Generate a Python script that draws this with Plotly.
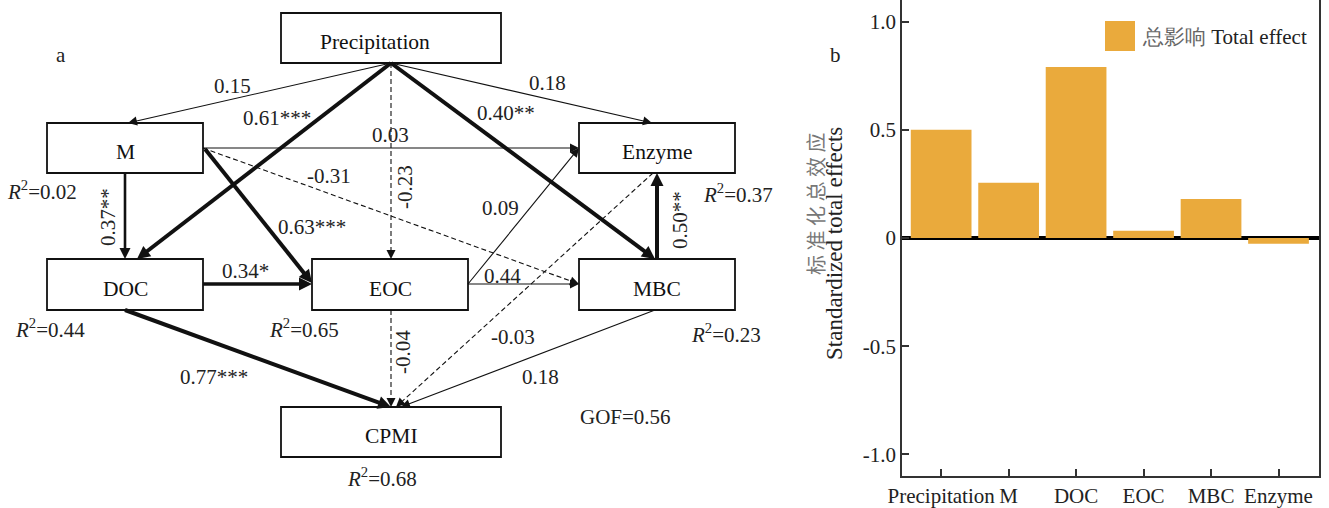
import math
import plotly.graph_objects as go

# ---------------- data: bar chart (panel b) ----------------
categories = ["Precipitation", "M", "DOC", "EOC", "MBC", "Enzyme"]
total_effects = [0.50, 0.255, 0.79, 0.034, 0.18, -0.026]
y_tickvals = [1.0, 0.5, 0, -0.5, -1.0]
y_ticktext = ["1.0", "0.5", "0", "-0.5", "-1.0"]
legend_label = "总影响 Total effect"

# ---------------- data: path model (panel a) ----------------
nodes = ["Precipitation", "M", "Enzyme", "DOC", "EOC", "MBC", "CPMI"]
r2_nodes = ["M", "Enzyme", "DOC", "EOC", "MBC", "CPMI"]
r2_values = ["0.02", "0.37", "0.44", "0.65", "0.23", "0.68"]
path_from = ["Precipitation", "Precipitation", "Precipitation", "Precipitation", "Precipitation",
             "M", "M", "M", "M", "DOC", "DOC", "EOC", "EOC", "EOC", "MBC", "MBC", "Enzyme"]
path_to = ["M", "DOC", "EOC", "MBC", "Enzyme",
           "Enzyme", "MBC", "EOC", "DOC", "EOC", "CPMI", "CPMI", "Enzyme", "MBC", "Enzyme", "CPMI", "CPMI"]
path_coef = [0.15, 0.61, -0.23, 0.40, 0.18,
             0.03, -0.31, 0.63, 0.37, 0.34, 0.77, -0.04, 0.09, 0.44, 0.50, 0.18, -0.03]
path_sig = ["", "***", "", "**", "",
            "", "", "***", "**", "*", "***", "", "", "", "**", "", ""]
gof_value = "0.56"

# ---------------- layout geometry (pixel space of the figure) ----------------
W, H = 1329, 508
FONT = "Liberation Serif"
CJK_FONT = "Noto Sans CJK SC"
FS = 21

node_box = {
    "Precipitation": (281, 13, 501, 63),
    "M": (47, 123, 203, 173),
    "Enzyme": (579, 123, 735, 173),
    "DOC": (47, 259, 203, 310),
    "EOC": (312, 259, 468, 310),
    "MBC": (579, 259, 735, 310),
    "CPMI": (281, 407, 501, 457),
}
node_label_shift = {"Precipitation": -16}

# edge geometry: start, end, label position, label angle, line width
edge_geom = [
    ((391, 63), (128, 123), (232, 86), 0, 1.1),
    ((391, 63), (137, 259), (277, 118), 0, 4),
    ((391, 63), (391, 259), (405, 187), -90, 1.1),
    ((391, 63), (655, 259), (506, 113), 0, 4),
    ((391, 63), (652, 123), (547, 83), 0, 1.1),
    ((203, 148), (579, 148), (390, 135), 0, 1.1),
    ((203, 148), (579, 284), (329, 176), 0, 1.1),
    ((205, 149), (312, 283), (312, 227), 0, 4),
    ((125, 173), (125, 259), (108, 217), -90, 2.6),
    ((203, 284), (312, 284), (245, 271), 0, 3.3),
    ((125, 310), (391, 407), (214, 377), 0, 4),
    ((391, 310), (391, 407), (403, 352), -90, 1.1),
    ((468, 284), (579, 148), (500, 208), 0, 1.1),
    ((468, 284), (579, 284), (502, 276), 0, 1.1),
    ((657, 259), (657, 173), (680, 220), -90, 4),
    ((655, 310), (401, 407), (540, 377), 0, 1.1),
    ((653, 173), (396, 407), (513, 337), 0, 1.1),
]
r2_pos = {"M": (42, 190), "Enzyme": (738, 193), "DOC": (50, 328),
          "EOC": (304, 328), "MBC": (726, 333), "CPMI": (382, 477)}

BAR_COLOR = "#EAAA3C"

fig = go.Figure()

# ---------------- panel b: bars ----------------
fig.add_trace(go.Bar(
    x=categories, y=total_effects, width=0.9,
    marker=dict(color=BAR_COLOR, line=dict(width=0)),
    showlegend=False, xaxis="x", yaxis="y",
))
# invisible trace so the diagram axes exist
fig.add_trace(go.Scatter(x=[0], y=[0], mode="markers", marker=dict(opacity=0),
                         showlegend=False, hoverinfo="skip", xaxis="x2", yaxis="y2"))

shapes = []
annotations = []

# ---------------- panel a: path diagram ----------------
for name in nodes:
    x0, y0, x1, y1 = node_box[name]
    shapes.append(dict(type="rect", xref="x2", yref="y2", x0=x0, y0=y0, x1=x1, y1=y1,
                       line=dict(color="#111", width=1.8), fillcolor="rgba(0,0,0,0)"))
    cx = (x0 + x1) / 2 + node_label_shift.get(name, 0)
    cy = (y0 + y1) / 2 + 4
    annotations.append(dict(xref="x2", yref="y2", x=cx, y=cy, text=name, showarrow=False,
                            font=dict(family=FONT, size=21.5, color="#111")))

for i in range(len(path_coef)):
    (sx, sy), (ex, ey), (lx, ly), ang, lw = edge_geom[i]
    dash = "dash" if path_coef[i] < 0 else "solid"
    dx, dy = ex - sx, ey - sy
    L = math.hypot(dx, dy)
    ux, uy = dx / L, dy / L
    hs = 2.6 if lw >= 3 else (2.2 if lw >= 2 else 1.8)
    hl = 5 * hs
    back = hl * 0.6
    shapes.append(dict(type="line", xref="x2", yref="y2", x0=sx, y0=sy,
                       x1=ex - ux * back, y1=ey - uy * back,
                       line=dict(color="#111", width=lw, dash=dash if dash == "solid" else "5px,3px")))
    annotations.append(dict(xref="x2", yref="y2", x=ex, y=ey, text="", showarrow=True,
                            arrowhead=2, arrowsize=hs, arrowwidth=1, arrowcolor="#111",
                            ax=-ux * (hl + 1), ay=-uy * (hl + 1), standoff=0))
    label = f"{path_coef[i]:.2f}{path_sig[i]}"
    annotations.append(dict(xref="x2", yref="y2", x=lx, y=ly, text=label, showarrow=False,
                            textangle=ang, font=dict(family=FONT, size=FS, color="#222")))

for name, val in zip(r2_nodes, r2_values):
    px, py = r2_pos[name]
    annotations.append(dict(xref="x2", yref="y2", x=px, y=py,
                            text=f"<i>R</i><sup>2</sup>={val}", showarrow=False,
                            font=dict(family=FONT, size=FS, color="#222")))

annotations.append(dict(xref="x2", yref="y2", x=625, y=417, text=f"GOF={gof_value}",
                        showarrow=False, font=dict(family=FONT, size=FS, color="#222")))
annotations.append(dict(xref="x2", yref="y2", x=61, y=55, text="a",
                        showarrow=False, font=dict(family=FONT, size=FS, color="#222")))
annotations.append(dict(xref="x2", yref="y2", x=835, y=55, text="b",
                        showarrow=False, font=dict(family=FONT, size=FS, color="#222")))

# y-axis title of panel b (two lines)
annotations.append(dict(xref="x2", yref="y2", x=815, y=204, text="标 准 化 总 效 应",
                        showarrow=False, textangle=-90,
                        font=dict(family=CJK_FONT, size=20, color="#777")))
annotations.append(dict(xref="x2", yref="y2", x=834, y=244, text="Standardized total effects",
                        showarrow=False, textangle=-90,
                        font=dict(family=FONT, size=23, color="#222")))

# legend (manual)
shapes.append(dict(type="rect", xref="x2", yref="y2", x0=1105, y0=21, x1=1135, y1=51,
                   line=dict(width=0), fillcolor=BAR_COLOR))
annotations.append(dict(xref="x2", yref="y2", x=1140, y=37, xanchor="left",
                        text="<span style='color:#666'>总影响</span> Total effect",
                        showarrow=False, font=dict(family=FONT, size=FS, color="#222")))

fig.update_layout(
    width=W, height=H, autosize=False,
    margin=dict(l=0, r=0, t=0, b=0, pad=0, autoexpand=False),
    paper_bgcolor="white", plot_bgcolor="rgba(0,0,0,0)",
    bargap=0.1, showlegend=False,
    font=dict(family=FONT, size=FS, color="#222"),
    xaxis=dict(domain=[902 / W, 1319 / W], range=[-0.58, 5.6], anchor="y", automargin=False,
               showline=True, mirror=True, linecolor="#333", linewidth=1.6,
               ticks="inside", ticklen=7, tickwidth=1.5, tickcolor="#333",
               showgrid=False, zeroline=False,
               tickfont=dict(family=FONT, size=FS, color="#222")),
    yaxis=dict(domain=[1 - 476 / H, 1.0], range=[-1.1, 1.1], anchor="x", automargin=False,
               showline=True, mirror=True, linecolor="#333", linewidth=1.6,
               ticks="inside", ticklen=7, tickwidth=1.5, tickcolor="#333",
               tickvals=y_tickvals, ticktext=y_ticktext,
               showgrid=False, zeroline=True, zerolinecolor="#000", zerolinewidth=3.5,
               tickfont=dict(family=FONT, size=FS, color="#222")),
    xaxis2=dict(domain=[0, 1], range=[0, W], anchor="y2", visible=False, fixedrange=True,
                automargin=False),
    yaxis2=dict(domain=[0, 1], range=[H, 0], anchor="x2", visible=False, fixedrange=True,
                automargin=False),
    shapes=shapes,
    annotations=annotations,
)

fig.write_html("out.html", config={"displayModeBar": False},
               post_script="document.body.style.margin='0';document.body.style.overflow='hidden';")
